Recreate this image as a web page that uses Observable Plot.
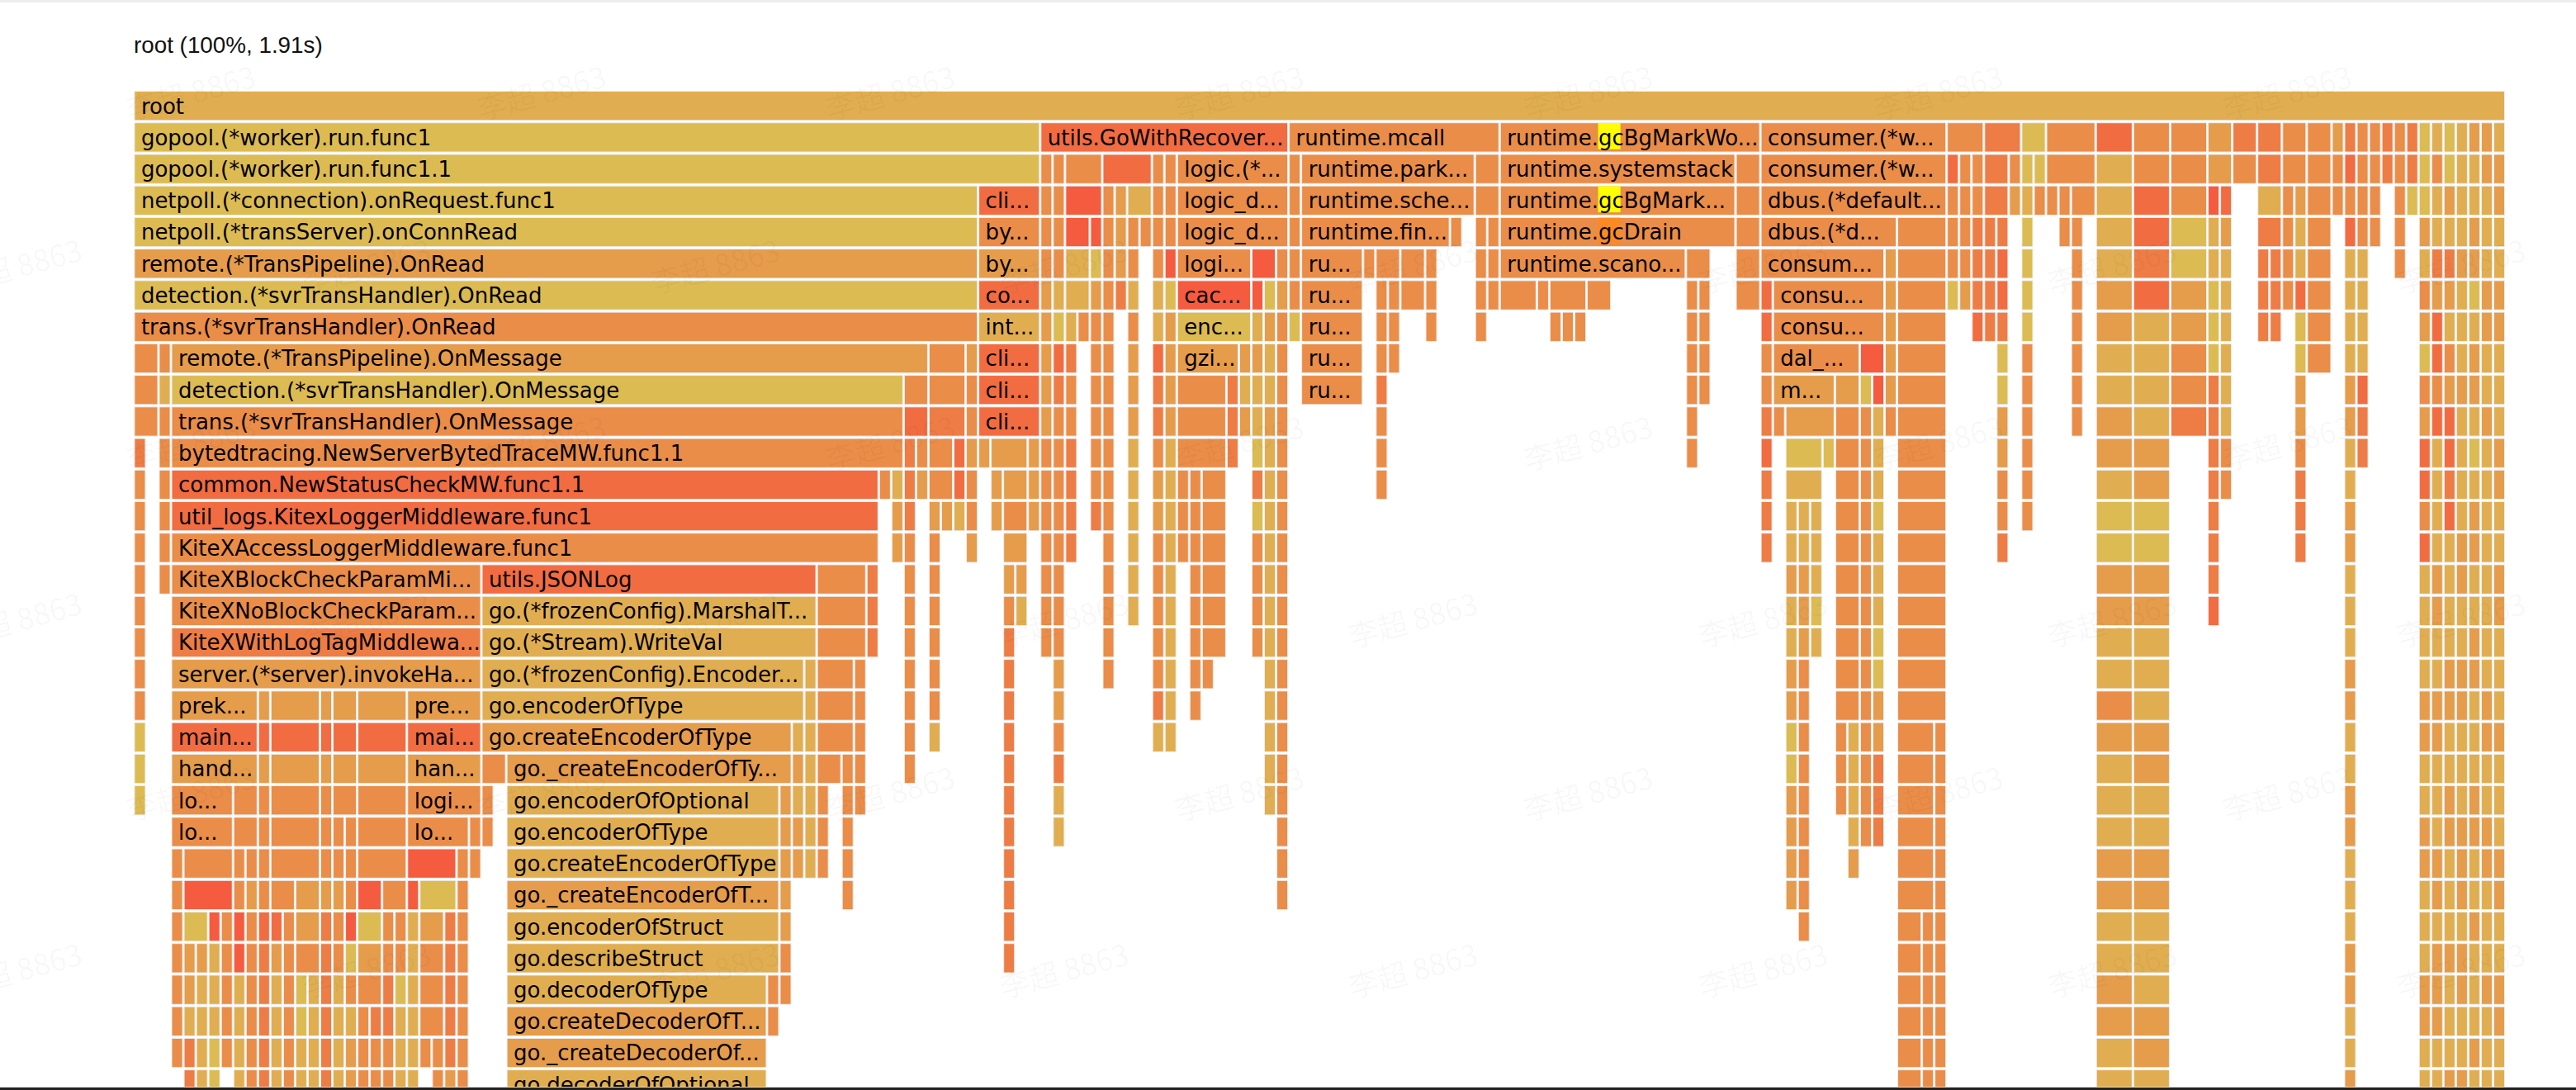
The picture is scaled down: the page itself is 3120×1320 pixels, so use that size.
<!DOCTYPE html>
<html><head><meta charset="utf-8">
<style>
html,body{margin:0;padding:0;background:#fff;width:3120px;height:1320px;overflow:hidden}
#title{height:110px;box-sizing:border-box;padding:36.5px 0 0 162px;font:27.8px/36px "Liberation Sans",sans-serif;color:#111}
#chart svg{display:block;overflow:visible}
#topband{position:fixed;left:0;top:0;width:3120px;height:3px;background:#eee}
#botband{position:fixed;left:0;top:1316px;width:3120px;height:4px;background:#222;border-top:1px solid #ddd;box-sizing:border-box}
</style>
<script src="https://cdn.jsdelivr.net/npm/d3@7"></script>
<script src="https://cdn.jsdelivr.net/npm/@observablehq/plot@0.6"></script>
</head><body>
<div id="title">root (100%, 1.91s)</div>
<div id="chart"></div>
<div id="topband"></div><div id="botband"></div>
<script>
// Every frame: [first sample, samples, heat class, label]. One sample = 10 ms, 191 in all.
const totalSamples = 191;
const heatCodes = ["y","a","o","m","r","R","H"];
const heatColors = ["#dcbb52","#e0ae50","#e59c4b","#ea8d48","#ee7c45","#f26c41","#f55b3e"];
const depth00 = [[0,191,"a","root"]];
const depth01 = [[0,73,"y","gopool.(*worker).run.func1"],[73,20,"R","utils.GoWithRecover..."],[93,17,"m","runtime.mcall"],[110,21,"m","runtime.gcBgMarkWo..."],[131,15,"m","consumer.(*w..."],[146,3,"m"],[149,3,"r"],[152,2,"y"],[154,4,"m"],[158,3,"R"],[161,3,"m"],[164,3,"m"],[167,2,"o"],[169,2,"r"],[171,2,"r"],[173,2,"m"],[175,2,"m"],[177,1,"o"],[178,1,"r"],[179,1,"m"],[180,1,"m"],[181,1,"r"],[182,1,"m"],[183,1,"r"],[184,1,"y"],[185,1,"a"],[186,1,"y"],[187,1,"a"],[188,1,"o"],[189,1,"o"],[190,1,"a"]];
const depth02 = [[0,73,"y","gopool.(*worker).run.func1.1"],[73,1,"m"],[74,1,"m"],[75,3,"m"],[78,4,"R"],[82,1,"m"],[83,1,"m"],[84,9,"m","logic.(*..."],[93,1,"m"],[94,14,"m","runtime.park..."],[108,2,"m"],[110,19,"m","runtime.systemstack"],[129,2,"m"],[131,15,"m","consumer.(*w..."],[146,1,"R"],[147,1,"m"],[148,1,"m"],[149,2,"r"],[151,1,"m"],[152,1,"y"],[153,1,"y"],[154,4,"m"],[158,3,"a"],[161,3,"m"],[164,3,"m"],[167,2,"o"],[169,2,"m"],[171,2,"r"],[173,2,"m"],[175,2,"m"],[177,1,"m"],[178,1,"R"],[179,1,"m"],[180,1,"m"],[181,1,"r"],[182,1,"m"],[183,1,"r"],[184,1,"y"],[185,1,"m"],[186,1,"y"],[187,1,"a"],[188,1,"a"],[189,1,"o"],[190,1,"o"]];
const depth03 = [[0,68,"y","netpoll.(*connection).onRequest.func1"],[68,5,"R","cli..."],[73,1,"m"],[74,1,"m"],[75,3,"H"],[78,1,"m"],[79,1,"o"],[80,2,"a"],[82,1,"m"],[83,1,"m"],[84,9,"m","logic_d..."],[93,1,"m"],[94,14,"m","runtime.sche..."],[108,2,"m"],[110,19,"m","runtime.gcBgMark..."],[129,2,"m"],[131,15,"m","dbus.(*default..."],[146,1,"m"],[147,1,"m"],[148,1,"m"],[149,2,"r"],[151,1,"o"],[152,1,"a"],[153,1,"m"],[154,1,"m"],[155,1,"m"],[156,2,"m"],[158,3,"a"],[161,3,"R"],[164,3,"m"],[167,1,"H"],[168,1,"R"],[171,2,"a"],[173,1,"m"],[174,1,"o"],[175,2,"m"],[177,1,"m"],[178,1,"m"],[179,1,"m"],[180,1,"m"],[182,1,"m"],[183,1,"y"],[184,1,"y"],[185,1,"a"],[186,1,"o"],[187,1,"a"],[188,1,"a"],[189,1,"a"],[190,1,"o"]];
const depth04 = [[0,68,"y","netpoll.(*transServer).onConnRead"],[68,5,"m","by..."],[73,1,"m"],[74,1,"m"],[75,2,"H"],[77,1,"H"],[78,1,"m"],[79,1,"o"],[80,1,"m"],[81,1,"m"],[82,1,"m"],[83,1,"m"],[84,9,"m","logic_d..."],[93,1,"m"],[94,12,"m","runtime.fin..."],[106,1,"m"],[108,1,"m"],[109,1,"m"],[110,19,"m","runtime.gcDrain"],[129,2,"m"],[131,11,"m","dbus.(*d..."],[142,4,"m"],[146,1,"m"],[147,1,"m"],[148,1,"r"],[149,1,"r"],[150,1,"r"],[152,1,"y"],[155,1,"m"],[156,1,"m"],[158,3,"a"],[161,3,"R"],[164,3,"y"],[167,1,"a"],[168,1,"o"],[171,2,"r"],[173,1,"m"],[174,1,"a"],[175,2,"m"],[178,1,"R"],[179,1,"m"],[180,1,"m"],[182,1,"m"],[184,1,"o"],[185,1,"a"],[186,1,"a"],[187,1,"a"],[188,1,"o"],[189,1,"a"],[190,1,"a"]];
const depth05 = [[0,68,"o","remote.(*TransPipeline).OnRead"],[68,5,"o","by..."],[73,1,"m"],[74,1,"m"],[75,2,"a"],[77,1,"y"],[78,1,"m"],[79,1,"o"],[80,1,"m"],[82,1,"m"],[83,1,"H"],[84,6,"m","logi..."],[90,2,"H"],[92,1,"m"],[93,1,"m"],[94,5,"m","ru..."],[99,1,"m"],[100,2,"m"],[102,2,"m"],[104,1,"m"],[108,1,"m"],[109,1,"m"],[110,15,"m","runtime.scano..."],[125,2,"m"],[129,2,"m"],[131,10,"m","consum..."],[141,1,"o"],[142,4,"m"],[146,1,"m"],[147,1,"m"],[148,1,"r"],[149,1,"r"],[150,1,"R"],[152,1,"y"],[156,1,"m"],[158,3,"a"],[161,3,"r"],[164,3,"y"],[167,1,"a"],[168,1,"a"],[171,1,"r"],[172,1,"r"],[173,1,"m"],[174,1,"a"],[175,2,"m"],[178,1,"a"],[179,1,"a"],[182,1,"m"],[184,1,"a"],[185,1,"r"],[186,1,"r"],[187,1,"o"],[188,1,"o"],[189,1,"a"],[190,1,"a"]];
const depth06 = [[0,68,"y","detection.(*svrTransHandler).OnRead"],[68,5,"R","co..."],[73,1,"o"],[74,1,"a"],[75,2,"a"],[77,1,"o"],[78,1,"m"],[79,1,"r"],[80,1,"a"],[82,1,"a"],[83,1,"y"],[84,6,"H","cac..."],[90,1,"H"],[91,1,"y"],[92,1,"o"],[93,1,"m"],[94,5,"m","ru..."],[100,1,"m"],[101,1,"m"],[102,2,"m"],[104,1,"m"],[108,1,"m"],[109,1,"m"],[110,3,"m"],[113,1,"m"],[114,3,"m"],[117,2,"m"],[125,1,"m"],[126,1,"m"],[129,2,"m"],[131,1,"R"],[132,9,"m","consu..."],[141,1,"o"],[142,4,"m"],[146,1,"y"],[147,1,"o"],[148,1,"r"],[149,1,"r"],[150,1,"R"],[152,1,"y"],[156,1,"m"],[158,3,"o"],[161,3,"R"],[164,3,"o"],[167,1,"y"],[168,1,"a"],[171,1,"r"],[172,1,"r"],[173,1,"m"],[174,1,"R"],[175,2,"m"],[178,1,"a"],[179,1,"a"],[184,1,"m"],[185,1,"o"],[186,1,"o"],[187,1,"a"],[188,1,"y"],[189,1,"o"],[190,1,"o"]];
const depth07 = [[0,68,"m","trans.(*svrTransHandler).OnRead"],[68,5,"a","int..."],[73,1,"o"],[74,1,"y"],[75,1,"a"],[76,1,"m"],[77,1,"m"],[78,1,"m"],[80,1,"m"],[82,1,"a"],[83,1,"o"],[84,6,"y","enc..."],[90,1,"a"],[91,1,"o"],[92,1,"m"],[93,1,"y"],[94,5,"m","ru..."],[100,1,"m"],[101,1,"m"],[104,1,"m"],[108,1,"m"],[114,1,"m"],[115,1,"m"],[116,1,"m"],[125,1,"m"],[126,1,"m"],[131,1,"R"],[132,9,"m","consu..."],[141,1,"o"],[142,4,"m"],[148,1,"R"],[149,1,"r"],[150,1,"r"],[152,1,"y"],[156,1,"m"],[158,3,"o"],[161,3,"a"],[164,3,"o"],[167,1,"y"],[168,1,"a"],[171,1,"r"],[172,1,"r"],[174,1,"y"],[175,2,"m"],[178,1,"a"],[179,1,"a"],[184,1,"o"],[185,1,"R"],[186,1,"a"],[187,1,"a"],[188,1,"a"],[189,1,"o"],[190,1,"o"]];
const depth08 = [[0,2,"m"],[2,1,"m"],[3,61,"o","remote.(*TransPipeline).OnMessage"],[64,3,"m"],[67,1,"o"],[68,5,"R","cli..."],[73,1,"o"],[74,1,"R"],[75,1,"r"],[77,1,"m"],[78,1,"m"],[80,1,"o"],[82,1,"R"],[83,1,"o"],[84,5,"o","gzi..."],[89,1,"o"],[90,1,"o"],[91,1,"a"],[92,1,"m"],[94,5,"m","ru..."],[100,1,"m"],[101,1,"m"],[125,1,"m"],[126,1,"m"],[131,1,"m"],[132,7,"m","dal_..."],[139,2,"H"],[141,1,"o"],[142,4,"m"],[150,1,"y"],[152,1,"m"],[156,1,"m"],[158,3,"a"],[161,3,"a"],[164,3,"m"],[167,1,"y"],[168,1,"a"],[174,1,"y"],[175,2,"m"],[178,1,"a"],[179,1,"a"],[184,1,"y"],[185,1,"R"],[186,1,"m"],[187,1,"a"],[188,1,"o"],[189,1,"a"],[190,1,"a"]];
const depth09 = [[0,2,"m"],[2,1,"a"],[3,59,"y","detection.(*svrTransHandler).OnMessage"],[62,2,"m"],[64,3,"m"],[67,1,"m"],[68,5,"R","cli..."],[73,1,"o"],[74,1,"r"],[75,1,"m"],[77,1,"m"],[78,1,"m"],[80,1,"o"],[82,1,"r"],[83,1,"o"],[84,4,"m"],[88,1,"r"],[89,1,"a"],[90,1,"a"],[91,1,"a"],[92,1,"m"],[94,5,"m","ru..."],[100,1,"r"],[125,1,"m"],[126,1,"m"],[131,1,"m"],[132,5,"o","m..."],[137,2,"o"],[139,1,"y"],[140,1,"H"],[141,1,"o"],[142,4,"m"],[150,1,"y"],[152,1,"m"],[156,1,"m"],[158,3,"a"],[161,3,"a"],[164,3,"m"],[167,1,"r"],[168,1,"a"],[174,1,"o"],[178,1,"o"],[179,1,"R"],[184,1,"m"],[185,1,"m"],[186,1,"o"],[187,1,"o"],[188,1,"o"],[189,1,"a"],[190,1,"a"]];
const depth10 = [[0,2,"m"],[2,1,"m"],[3,59,"m","trans.(*svrTransHandler).OnMessage"],[62,2,"R"],[64,3,"r"],[67,1,"m"],[68,5,"R","cli..."],[73,1,"o"],[74,1,"m"],[75,1,"m"],[77,1,"m"],[78,1,"m"],[80,1,"o"],[82,1,"r"],[83,1,"o"],[84,4,"m"],[88,1,"r"],[89,1,"o"],[90,1,"a"],[91,1,"o"],[92,1,"m"],[100,1,"m"],[125,1,"m"],[131,1,"r"],[132,1,"m"],[133,4,"o"],[137,2,"m"],[139,1,"m"],[140,1,"a"],[141,1,"m"],[142,4,"m"],[150,1,"o"],[152,1,"m"],[156,1,"m"],[158,3,"o"],[161,3,"a"],[164,3,"r"],[167,1,"r"],[168,1,"a"],[174,1,"o"],[178,1,"o"],[179,1,"r"],[184,1,"o"],[185,1,"R"],[186,1,"R"],[187,1,"a"],[188,1,"a"],[189,1,"o"],[190,1,"a"]];
const depth11 = [[0,1,"r"],[2,1,"m"],[3,59,"m","bytedtracing.NewServerBytedTraceMW.func1.1"],[62,1,"r"],[63,1,"m"],[64,2,"m"],[66,1,"R"],[67,1,"o"],[68,1,"o"],[69,3,"o"],[72,1,"o"],[73,1,"m"],[74,1,"m"],[75,1,"r"],[77,1,"m"],[78,1,"m"],[80,1,"a"],[82,1,"m"],[83,1,"a"],[84,4,"m"],[88,1,"r"],[90,1,"y"],[91,1,"a"],[92,1,"m"],[100,1,"m"],[125,1,"m"],[131,1,"R"],[133,3,"y"],[136,1,"y"],[137,2,"m"],[139,1,"m"],[140,1,"a"],[142,4,"m"],[150,1,"o"],[152,1,"m"],[158,3,"o"],[161,3,"o"],[167,1,"r"],[168,1,"m"],[174,1,"m"],[178,1,"a"],[179,1,"r"],[184,1,"R"],[185,1,"a"],[186,1,"R"],[187,1,"a"],[188,1,"y"],[189,1,"a"],[190,1,"o"]];
const depth12 = [[0,1,"m"],[2,1,"m"],[3,57,"R","common.NewStatusCheckMW.func1.1"],[60,1,"m"],[61,1,"a"],[62,1,"r"],[63,1,"o"],[64,2,"m"],[66,1,"R"],[67,1,"m"],[69,1,"o"],[70,2,"o"],[72,1,"o"],[73,1,"m"],[74,1,"m"],[75,1,"r"],[77,1,"m"],[78,1,"m"],[80,1,"a"],[82,1,"o"],[83,1,"a"],[84,1,"m"],[85,1,"m"],[86,2,"m"],[90,1,"r"],[91,1,"a"],[92,1,"m"],[100,1,"m"],[131,1,"r"],[133,3,"a"],[137,2,"m"],[139,1,"m"],[140,1,"a"],[142,4,"m"],[150,1,"m"],[152,1,"m"],[158,3,"a"],[161,3,"o"],[167,1,"r"],[168,1,"m"],[174,1,"r"],[178,1,"a"],[184,1,"R"],[185,1,"a"],[186,1,"r"],[187,1,"a"],[188,1,"a"],[189,1,"a"],[190,1,"o"]];
const depth13 = [[0,1,"m"],[2,1,"m"],[3,57,"R","util_logs.KitexLoggerMiddleware.func1"],[61,1,"o"],[62,1,"r"],[64,1,"o"],[65,1,"o"],[66,1,"a"],[67,1,"m"],[69,1,"o"],[70,2,"m"],[72,1,"o"],[73,1,"m"],[74,1,"m"],[75,1,"r"],[77,1,"r"],[78,1,"m"],[80,1,"a"],[82,1,"o"],[83,1,"a"],[84,1,"m"],[85,1,"m"],[86,2,"m"],[90,1,"y"],[91,1,"a"],[92,1,"m"],[131,1,"r"],[133,1,"a"],[134,1,"a"],[135,1,"a"],[137,2,"m"],[139,1,"m"],[140,1,"y"],[142,4,"m"],[150,1,"m"],[152,1,"m"],[158,3,"y"],[161,3,"y"],[167,1,"r"],[174,1,"r"],[178,1,"o"],[184,1,"m"],[185,1,"a"],[186,1,"R"],[187,1,"a"],[188,1,"o"],[189,1,"a"],[190,1,"a"]];
const depth14 = [[0,1,"m"],[2,1,"m"],[3,57,"m","KiteXAccessLoggerMiddleware.func1"],[61,1,"o"],[62,1,"m"],[64,1,"m"],[67,1,"o"],[70,2,"o"],[73,1,"m"],[74,1,"m"],[75,1,"r"],[78,1,"m"],[80,1,"a"],[82,1,"m"],[83,1,"a"],[84,1,"m"],[85,1,"m"],[86,2,"m"],[90,1,"m"],[91,1,"a"],[92,1,"m"],[131,1,"r"],[133,1,"a"],[134,1,"a"],[135,1,"a"],[137,2,"m"],[139,1,"m"],[140,1,"a"],[142,4,"m"],[150,1,"r"],[158,3,"y"],[161,3,"y"],[167,1,"r"],[174,1,"r"],[178,1,"o"],[184,1,"R"],[185,1,"a"],[186,1,"a"],[187,1,"o"],[188,1,"o"],[189,1,"a"],[190,1,"a"]];
const depth15 = [[0,1,"m"],[2,1,"m"],[3,25,"m","KiteXBlockCheckParamMi..."],[28,27,"R","utils.JSONLog"],[55,4,"m"],[59,1,"r"],[62,1,"m"],[64,1,"m"],[70,1,"o"],[71,1,"o"],[73,1,"m"],[74,1,"m"],[78,1,"m"],[80,1,"a"],[82,1,"m"],[83,1,"a"],[85,1,"m"],[86,2,"m"],[90,1,"m"],[91,1,"a"],[92,1,"m"],[133,1,"o"],[134,1,"o"],[135,1,"a"],[137,2,"m"],[139,1,"m"],[140,1,"a"],[142,4,"m"],[158,3,"o"],[161,3,"o"],[167,1,"r"],[178,1,"a"],[184,1,"a"],[185,1,"o"],[186,1,"a"],[187,1,"o"],[188,1,"a"],[189,1,"a"],[190,1,"o"]];
const depth16 = [[0,1,"m"],[3,25,"m","KiteXNoBlockCheckParam..."],[28,27,"a","go.(*frozenConfig).MarshalT..."],[55,4,"m"],[59,1,"r"],[62,1,"m"],[64,1,"m"],[70,1,"m"],[71,1,"a"],[73,1,"m"],[74,1,"m"],[78,1,"m"],[80,1,"a"],[82,1,"m"],[83,1,"a"],[85,1,"m"],[86,2,"m"],[90,1,"m"],[91,1,"a"],[92,1,"m"],[133,1,"a"],[134,1,"o"],[135,1,"y"],[137,2,"m"],[139,1,"m"],[140,1,"a"],[142,4,"m"],[158,3,"o"],[161,3,"o"],[167,1,"R"],[178,1,"a"],[184,1,"a"],[185,1,"o"],[186,1,"a"],[187,1,"a"],[188,1,"a"],[189,1,"a"],[190,1,"o"]];
const depth17 = [[0,1,"m"],[3,25,"r","KiteXWithLogTagMiddlewa..."],[28,27,"a","go.(*Stream).WriteVal"],[55,4,"m"],[59,1,"r"],[62,1,"m"],[64,1,"m"],[70,1,"r"],[73,1,"m"],[74,1,"m"],[78,1,"m"],[82,1,"m"],[83,1,"a"],[85,1,"m"],[86,2,"m"],[90,1,"m"],[91,1,"a"],[92,1,"m"],[133,1,"a"],[134,1,"o"],[135,1,"a"],[137,2,"m"],[139,1,"m"],[140,1,"y"],[142,4,"m"],[158,3,"a"],[161,3,"a"],[178,1,"a"],[184,1,"a"],[185,1,"a"],[186,1,"a"],[187,1,"a"],[188,1,"o"],[189,1,"a"],[190,1,"a"]];
const depth18 = [[0,1,"m"],[3,25,"o","server.(*server).invokeHa..."],[28,26,"a","go.(*frozenConfig).Encoder..."],[54,1,"a"],[55,3,"m"],[58,1,"m"],[62,1,"m"],[64,1,"m"],[70,1,"r"],[74,1,"o"],[78,1,"m"],[82,1,"m"],[83,1,"a"],[85,1,"m"],[86,1,"m"],[91,1,"a"],[92,1,"m"],[133,1,"o"],[134,1,"m"],[137,2,"m"],[139,1,"m"],[140,1,"y"],[142,4,"m"],[158,3,"a"],[161,3,"a"],[178,1,"o"],[184,1,"a"],[185,1,"a"],[186,1,"o"],[187,1,"o"],[188,1,"o"],[189,1,"a"],[190,1,"a"]];
const depth19 = [[0,1,"m"],[3,7,"o","prek..."],[10,1,"o"],[11,4,"o"],[15,1,"o"],[16,2,"o"],[18,4,"o"],[22,6,"o","pre..."],[28,26,"a","go.encoderOfType"],[54,1,"a"],[55,3,"m"],[58,1,"m"],[62,1,"m"],[64,1,"m"],[70,1,"r"],[74,1,"o"],[82,1,"r"],[83,1,"a"],[85,1,"m"],[91,1,"a"],[92,1,"m"],[133,1,"o"],[134,1,"m"],[137,2,"m"],[139,1,"m"],[140,1,"o"],[142,4,"m"],[158,3,"m"],[161,3,"a"],[178,1,"o"],[184,1,"o"],[185,1,"o"],[186,1,"o"],[187,1,"o"],[188,1,"a"],[189,1,"o"],[190,1,"a"]];
const depth20 = [[0,1,"y"],[3,7,"R","main..."],[10,1,"R"],[11,4,"R"],[15,1,"R"],[16,2,"R"],[18,4,"R"],[22,6,"R","mai..."],[28,25,"o","go.createEncoderOfType"],[53,1,"a"],[54,1,"a"],[55,3,"m"],[58,1,"m"],[62,1,"m"],[64,1,"a"],[70,1,"r"],[74,1,"m"],[82,1,"a"],[83,1,"a"],[91,1,"a"],[92,1,"m"],[133,1,"y"],[134,1,"m"],[137,1,"m"],[138,1,"a"],[139,1,"m"],[140,1,"o"],[142,3,"m"],[145,1,"m"],[158,3,"o"],[161,3,"o"],[178,1,"a"],[184,1,"o"],[185,1,"o"],[186,1,"a"],[187,1,"a"],[188,1,"a"],[189,1,"o"],[190,1,"o"]];
const depth21 = [[0,1,"y"],[3,7,"o","hand..."],[10,1,"o"],[11,4,"o"],[15,1,"o"],[16,2,"o"],[18,4,"o"],[22,6,"o","han..."],[28,2,"m"],[30,23,"o","go._createEncoderOfTy..."],[53,1,"o"],[54,1,"a"],[55,2,"m"],[57,1,"m"],[58,1,"m"],[62,1,"m"],[70,1,"r"],[74,1,"r"],[91,1,"a"],[92,1,"m"],[133,1,"y"],[134,1,"m"],[137,1,"m"],[138,1,"a"],[139,1,"m"],[140,1,"r"],[142,3,"m"],[145,1,"m"],[158,3,"a"],[161,3,"o"],[178,1,"a"],[184,1,"a"],[185,1,"a"],[186,1,"a"],[187,1,"a"],[188,1,"a"],[189,1,"a"],[190,1,"a"]];
const depth22 = [[0,1,"y"],[3,5,"m","lo..."],[8,2,"m"],[10,1,"m"],[11,4,"m"],[15,1,"m"],[16,2,"m"],[18,4,"m"],[22,6,"m","logi..."],[28,1,"m"],[30,22,"a","go.encoderOfOptional"],[52,1,"o"],[53,1,"a"],[54,1,"a"],[55,1,"m"],[57,1,"m"],[58,1,"m"],[70,1,"r"],[74,1,"a"],[91,1,"a"],[92,1,"m"],[133,1,"o"],[134,1,"m"],[137,1,"m"],[138,1,"a"],[139,1,"m"],[140,1,"r"],[142,3,"m"],[145,1,"m"],[158,3,"a"],[161,3,"a"],[178,1,"o"],[184,1,"a"],[185,1,"a"],[186,1,"o"],[187,1,"a"],[188,1,"o"],[189,1,"a"],[190,1,"a"]];
const depth23 = [[3,5,"m","lo..."],[8,2,"m"],[10,1,"m"],[11,4,"m"],[15,1,"m"],[16,1,"m"],[17,1,"m"],[18,4,"m"],[22,5,"m","lo..."],[27,1,"m"],[28,1,"m"],[30,22,"a","go.encoderOfType"],[52,1,"o"],[53,1,"o"],[54,1,"a"],[55,1,"m"],[57,1,"m"],[70,1,"r"],[74,1,"a"],[92,1,"m"],[133,1,"o"],[134,1,"m"],[138,1,"a"],[139,1,"m"],[140,1,"r"],[142,3,"m"],[145,1,"m"],[158,3,"a"],[161,3,"a"],[178,1,"o"],[184,1,"o"],[185,1,"a"],[186,1,"o"],[187,1,"o"],[188,1,"o"],[189,1,"o"],[190,1,"a"]];
const depth24 = [[3,1,"m"],[4,4,"m"],[8,1,"m"],[9,1,"m"],[10,1,"m"],[11,4,"m"],[15,1,"m"],[16,1,"m"],[17,1,"m"],[18,4,"m"],[22,4,"H"],[26,1,"m"],[27,1,"m"],[30,22,"a","go.createEncoderOfType"],[52,1,"o"],[53,1,"o"],[54,1,"a"],[55,1,"m"],[57,1,"m"],[70,1,"r"],[92,1,"m"],[133,1,"o"],[134,1,"m"],[138,1,"o"],[142,3,"m"],[145,1,"m"],[158,3,"o"],[161,3,"o"],[178,1,"a"],[184,1,"o"],[185,1,"o"],[186,1,"a"],[187,1,"o"],[188,1,"a"],[189,1,"o"],[190,1,"o"]];
const depth25 = [[3,1,"m"],[4,4,"H"],[8,1,"m"],[9,1,"o"],[10,1,"m"],[11,2,"m"],[13,2,"o"],[15,1,"o"],[16,1,"o"],[17,1,"m"],[18,2,"H"],[20,2,"m"],[22,1,"H"],[23,3,"y"],[26,1,"m"],[30,22,"o","go._createEncoderOfT..."],[52,1,"o"],[57,1,"m"],[70,1,"r"],[92,1,"m"],[133,1,"o"],[134,1,"m"],[142,3,"m"],[145,1,"m"],[158,3,"o"],[161,3,"o"],[178,1,"a"],[184,1,"a"],[185,1,"o"],[186,1,"a"],[187,1,"o"],[188,1,"a"],[189,1,"a"],[190,1,"o"]];
const depth26 = [[3,1,"m"],[4,2,"y"],[6,1,"H"],[7,1,"m"],[8,1,"H"],[9,1,"m"],[10,1,"R"],[11,1,"R"],[12,1,"m"],[13,2,"o"],[15,1,"r"],[16,1,"m"],[17,1,"H"],[18,2,"y"],[20,1,"m"],[21,1,"m"],[22,1,"a"],[23,2,"o"],[25,1,"r"],[26,1,"m"],[30,22,"a","go.encoderOfStruct"],[52,1,"o"],[70,1,"r"],[134,1,"m"],[142,2,"m"],[144,1,"m"],[145,1,"m"],[158,3,"a"],[161,3,"a"],[178,1,"a"],[184,1,"a"],[185,1,"a"],[186,1,"a"],[187,1,"a"],[188,1,"o"],[189,1,"a"],[190,1,"a"]];
const depth27 = [[3,1,"m"],[4,1,"o"],[5,1,"o"],[6,1,"a"],[7,1,"m"],[8,1,"H"],[9,1,"m"],[10,1,"r"],[11,1,"o"],[12,1,"m"],[13,2,"m"],[15,1,"r"],[16,1,"m"],[17,1,"y"],[18,2,"o"],[20,1,"m"],[21,1,"m"],[22,1,"a"],[23,2,"m"],[25,1,"r"],[26,1,"m"],[30,22,"a","go.describeStruct"],[52,1,"m"],[70,1,"r"],[142,2,"m"],[144,1,"m"],[145,1,"m"],[158,3,"a"],[161,3,"a"],[178,1,"o"],[184,1,"a"],[185,1,"o"],[186,1,"o"],[187,1,"o"],[188,1,"a"],[189,1,"a"],[190,1,"a"]];
const depth28 = [[3,1,"m"],[4,1,"o"],[5,1,"a"],[6,1,"a"],[7,1,"m"],[8,1,"a"],[9,1,"m"],[10,1,"r"],[11,1,"a"],[12,1,"m"],[13,1,"y"],[14,1,"a"],[15,1,"r"],[16,1,"a"],[17,1,"m"],[18,2,"m"],[20,1,"r"],[21,1,"y"],[22,1,"a"],[23,2,"m"],[25,1,"r"],[26,1,"m"],[30,21,"a","go.decoderOfType"],[51,1,"m"],[52,1,"m"],[142,2,"m"],[144,1,"m"],[145,1,"m"],[158,3,"o"],[161,3,"a"],[178,1,"o"],[184,1,"o"],[185,1,"o"],[186,1,"a"],[187,1,"o"],[188,1,"a"],[189,1,"o"],[190,1,"o"]];
const depth29 = [[3,1,"m"],[4,1,"a"],[5,1,"a"],[6,1,"a"],[7,1,"m"],[8,1,"a"],[9,1,"m"],[10,1,"r"],[11,1,"a"],[12,1,"m"],[13,1,"y"],[14,1,"a"],[15,1,"r"],[16,1,"a"],[17,1,"a"],[18,1,"m"],[19,1,"r"],[20,1,"r"],[21,1,"a"],[22,1,"a"],[23,2,"m"],[25,1,"r"],[26,1,"m"],[30,21,"o","go.createDecoderOfT..."],[51,1,"m"],[142,2,"m"],[144,1,"m"],[145,1,"m"],[158,3,"o"],[161,3,"o"],[178,1,"a"],[184,1,"o"],[185,1,"o"],[186,1,"a"],[187,1,"a"],[188,1,"a"],[189,1,"a"],[190,1,"o"]];
const depth30 = [[3,1,"m"],[4,1,"r"],[5,1,"a"],[6,1,"y"],[7,1,"m"],[8,1,"a"],[9,1,"m"],[10,1,"r"],[11,1,"a"],[12,1,"m"],[13,1,"a"],[14,1,"a"],[15,1,"r"],[16,1,"a"],[17,1,"o"],[18,1,"m"],[19,1,"m"],[20,1,"m"],[21,1,"a"],[22,1,"a"],[23,1,"m"],[24,1,"m"],[25,1,"r"],[26,1,"m"],[30,21,"o","go._createDecoderOf..."],[142,2,"m"],[144,1,"m"],[145,1,"m"],[158,3,"a"],[161,3,"o"],[178,1,"a"],[184,1,"a"],[185,1,"a"],[186,1,"a"],[187,1,"a"],[188,1,"o"],[189,1,"a"],[190,1,"a"]];
const depth31 = [[4,1,"r"],[5,1,"a"],[6,1,"y"],[8,1,"a"],[9,1,"m"],[10,1,"r"],[11,1,"a"],[12,1,"m"],[13,1,"a"],[14,1,"a"],[15,1,"r"],[16,1,"a"],[17,1,"o"],[18,1,"m"],[19,1,"m"],[20,1,"m"],[21,1,"a"],[22,1,"a"],[24,1,"m"],[25,1,"o"],[26,1,"m"],[30,21,"a","go.decoderOfOptional"],[142,2,"m"],[144,1,"m"],[145,1,"m"],[158,3,"a"],[161,3,"a"],[178,1,"o"],[184,1,"a"],[185,1,"a"],[186,1,"o"],[187,1,"o"],[188,1,"a"],[189,1,"a"],[190,1,"a"]];
// Search-match highlights: [depth, first sample, samples, colour]
const matches = [[1,117.9,1.8,"#ffff00"],[3,117.9,1.8,"#ffff00"],[4,117.9,1.8,"#fb8a22"]];
// Faint tiled watermark, in sample/depth units
const markText = "李超 8863";
const markAColumns = [4.6,32.8,60.9,89,117.1,145.3,173.4];
const markARows = [0.1,11.2,22.3];
const markBColumns = [-9.4,18.7,46.8,74.9,103,131.2,159.3,187.4];
const markBRows = [5.6,16.8,27.9];

const allDepths = [depth00,depth01,depth02,depth03,depth04,depth05,depth06,depth07,depth08,depth09,depth10,depth11,depth12,depth13,depth14,depth15,depth16,depth17,depth18,depth19,depth20,depth21,depth22,depth23,depth24,depth25,depth26,depth27,depth28,depth29,depth30,depth31];
const cells = allDepths.flatMap((row, depth) => row.map(([start, span, heat, label]) => ({depth, start, span, heat, label})));
const spots = [...markARows.flatMap(y => markAColumns.map(x => ({x, y}))), ...markBRows.flatMap(y => markBColumns.map(x => ({x, y})))];
const rowPitch = 38.23, plotTop = 110, plotHeight = 1320 - plotTop;

const chart = Plot.plot({
  width: 3120, height: plotHeight, marginLeft: 162.4, marginRight: 85, marginTop: 0, marginBottom: 0,
  x: {domain: [0, totalSamples], axis: null},
  y: {domain: [0, plotHeight / rowPitch], range: [0, plotHeight], axis: null},
  color: {type: "ordinal", domain: heatCodes, range: heatColors},
  style: {fontFamily: "DejaVu Sans", background: "transparent"},
  marks: [
    Plot.rect(cells, {x1: "start", x2: d => d.start + d.span, y1: "depth", y2: d => d.depth + 1,
      fill: "heat", stroke: "#eeeeee", strokeWidth: 1, insetRight: 1.5, insetBottom: 2.4, insetLeft: 0.5, insetTop: 0.5}),
    Plot.rect(matches, {x1: d => d[1], x2: d => d[1] + d[2], y1: d => d[0] + 0.02, y2: d => d[0] + 0.85, fill: d => d[3]}),
    Plot.text(cells.filter(d => d.label), {x: "start", y: d => d.depth + 0.49, text: "label", dx: 8,
      textAnchor: "start", fontSize: 26, fill: "#000"}),
    Plot.text(spots, {x: "x", y: "y", text: () => markText, rotate: -15, fontSize: 36, fill: "#000",
      fillOpacity: 0.03, fontFamily: "Noto Sans CJK SC"})
  ]
});
document.getElementById("chart").append(chart);
</script>
</body></html>
